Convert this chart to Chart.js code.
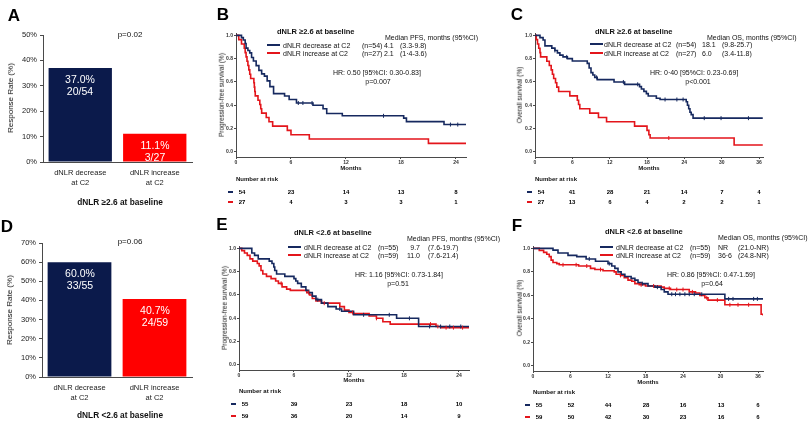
<!DOCTYPE html>
<html><head><meta charset="utf-8">
<script src="https://cdn.jsdelivr.net/npm/chart.js@4.4.1/dist/chart.umd.min.js"></script>
<style>
html,body{margin:0;padding:0;background:#fff;}
#page{position:relative;width:811px;height:428px;overflow:hidden;font-family:"Liberation Sans",Arial,sans-serif;color:#111;}
canvas{position:absolute;}
.t{position:absolute;white-space:nowrap;line-height:1;will-change:transform;}
</style></head><body><div id="page">
<canvas id="cA" width="200" height="215" style="left:0px;top:0px"></canvas>
<canvas id="cD" width="200" height="213" style="left:0px;top:215px"></canvas>
<canvas id="cB" width="280" height="160" style="left:200px;top:20px"></canvas>
<canvas id="cC" width="280" height="160" style="left:510px;top:20px"></canvas>
<canvas id="cE" width="280" height="160" style="left:200px;top:233px"></canvas>
<canvas id="cF" width="280" height="160" style="left:510px;top:233px"></canvas>
</div>
<script>
// ---------------- DATA ----------------
const barCategories = [["dNLR decrease","at C2"],["dNLR increase","at C2"]];
const rateHigh = [37.0, 11.1];
const countsHigh = ["20/54","3/27"];
const rateLow = [60.0, 40.7];
const countsLow = ["33/55","24/59"];

// B: PFS, dNLR >=2.6
const bTimeDec = [0,0.6,0.8,1.0,1.1,1.3,1.5,1.7,1.9,2.2,2.5,2.8,3.1,3.4,3.7,4.1,5.3,5.8,6.6,8.4,9.5,9.9,11.6,18.3,18.6,22.7,25.1];
const bSurvDec = [1,0.98,0.96,0.93,0.89,0.87,0.85,0.81,0.78,0.74,0.70,0.67,0.65,0.61,0.56,0.50,0.48,0.45,0.42,0.40,0.37,0.33,0.31,0.29,0.26,0.235,0.235];
const bTimeInc = [0,0.3,0.6,0.9,1.0,1.1,1.2,1.3,1.4,1.5,1.6,1.95,2.0,2.05,2.1,2.4,2.6,2.7,2.8,3.3,3.6,4.0,5.6,6.0,8.0,21.0,25.1];
const bSurvInc = [1,0.963,0.926,0.889,0.852,0.815,0.778,0.741,0.704,0.667,0.630,0.593,0.556,0.519,0.481,0.444,0.407,0.370,0.333,0.296,0.259,0.222,0.185,0.148,0.111,0.074,0.074];
const bCensDec = [6.8,7.3,8.3,16.1,23.4,24.2];
const bCensInc = [];

// C: OS, dNLR >=2.6
const cTimeDec = [0,0.8,1.3,1.6,2.7,3.2,3.6,4.0,4.5,5.2,6.0,8.4,8.7,9.0,9.3,9.6,10.0,12.7,14.4,16.8,17.1,17.5,17.9,18.2,19.5,20.1,24.3,24.5,24.7,24.9,25.1,25.4,36.6];
const cSurvDec = [1,0.98,0.96,0.91,0.89,0.87,0.85,0.83,0.815,0.80,0.78,0.76,0.72,0.68,0.66,0.64,0.62,0.60,0.58,0.56,0.54,0.52,0.50,0.48,0.46,0.45,0.43,0.40,0.37,0.34,0.32,0.29,0.29];
const cTimeInc = [0,0.2,0.4,0.6,0.8,0.9,1.9,2.3,2.6,2.8,3.0,3.3,3.5,3.8,5.6,6.8,7.0,7.2,8.8,10.2,11.5,16.0,18.0,18.3,18.5,32.0,36.6];
const cSurvInc = [1,0.963,0.926,0.889,0.852,0.815,0.778,0.741,0.704,0.667,0.630,0.593,0.556,0.519,0.481,0.444,0.407,0.370,0.333,0.296,0.259,0.222,0.185,0.148,0.120,0.060,0.060];
const cCensDec = [3.2,5.1,9.9,14.2,16.5,20.9,22.8,23.8,27.2,29.9,34.3];
const cCensInc = [21.5];

// E: PFS, dNLR <2.6
const eTimeDec = [0,1.4,1.7,2.1,3.3,3.6,3.8,3.9,4.1,5.0,6.0,6.2,6.4,6.8,7.3,7.6,8.0,8.4,9.0,9.7,10.6,11.2,12.5,17.2,19.6,25.1];
const eSurvDec = [1,0.96,0.94,0.91,0.89,0.87,0.84,0.81,0.78,0.76,0.74,0.72,0.70,0.67,0.64,0.62,0.59,0.56,0.53,0.50,0.48,0.46,0.43,0.40,0.33,0.33];
const eTimeInc = [0,0.3,0.6,0.9,1.2,1.5,2.0,2.2,2.4,2.6,3.0,3.5,4.0,4.3,4.7,5.2,5.6,7.4,7.7,8.0,8.4,9.0,11.0,11.5,12.0,12.5,14.2,15.0,15.7,16.5,21.5,22.0,25.1];
const eSurvInc = [1,0.98,0.96,0.94,0.91,0.89,0.87,0.85,0.81,0.78,0.76,0.74,0.72,0.70,0.67,0.65,0.64,0.62,0.60,0.57,0.55,0.53,0.50,0.47,0.45,0.44,0.42,0.40,0.37,0.35,0.33,0.32,0.32];
const eCensDec = [8.6,11.0,13.6,16.4,18.6,20.8,22.0,23.0,24.2];
const eCensInc = [4.6,7.6,9.3,12.4,15.0,20.9,21.7,22.6,23.4,24.4];

// F: OS, dNLR <2.6
const fTimeDec = [0,3.2,4.0,5.6,7.0,8.5,10.0,12.0,12.6,13.1,13.6,14.1,14.7,15.7,16.3,16.8,17.3,18.4,19.5,20.5,21.0,21.6,30.7,36.8];
const fSurvDec = [1,0.985,0.96,0.94,0.93,0.91,0.89,0.87,0.85,0.83,0.80,0.78,0.76,0.745,0.73,0.71,0.70,0.68,0.67,0.65,0.63,0.61,0.57,0.57];
const fTimeInc = [0,1.0,1.7,2.2,2.6,2.9,3.2,3.8,4.2,7.3,9.2,9.9,11.2,13.0,13.3,14.0,14.6,15.2,15.8,16.3,17.0,18.0,20.5,21.0,22.0,25.0,26.0,26.7,27.5,28.0,30.7,36.5,36.8];
const fSurvInc = [1,0.983,0.966,0.95,0.93,0.90,0.88,0.87,0.86,0.85,0.83,0.82,0.81,0.80,0.78,0.77,0.75,0.73,0.72,0.70,0.69,0.68,0.67,0.66,0.65,0.63,0.62,0.60,0.58,0.56,0.52,0.44,0.43];
const fCensDec = [9.0,12.2,17.5,19.9,22.2,22.8,23.5,24.3,25.0,25.8,27.0,31.3,32.0,35.3,35.9];
const fCensInc = [4.8,6.9,8.6,10.8,14.0,17.3,19.3,21.8,23.0,24.0,25.5,27.8,29.5,31.5,32.8,34.5];

// Number at risk
const monthsPFS = [0,6,12,18,24];
const monthsOS = [0,6,12,18,24,30,36];
const bRiskDec = [54,23,14,13,8];
const bRiskInc = [27,4,3,3,1];
const cRiskDec = [54,41,28,21,14,7,4];
const cRiskInc = [27,13,6,4,2,2,1];
const eRiskDec = [55,39,23,18,10];
const eRiskInc = [59,36,20,14,9];
const fRiskDec = [55,52,44,28,16,13,6];
const fRiskInc = [59,50,42,30,23,16,6];

// ---------------- HELPERS ----------------
const NAVY_BAR = '#0b1a4b';
const RED_BAR = '#ff0000';
const NAVY = '#16295f';
const RED = '#e3151b';
const AX = '#4a4a4a';
const page = document.getElementById('page');

function T(x, y, s, o) {
  o = o || {};
  const d = document.createElement('div');
  d.className = 't';
  d.textContent = s;
  d.style.left = x + 'px';
  d.style.top = y + 'px';
  d.style.fontSize = (o.size || 7) + 'px';
  if (o.bold) d.style.fontWeight = 'bold';
  if (o.color) d.style.color = o.color;
  const a = o.a || 'l';
  const tr = {l:'translate(0,-50%)', c:'translate(-50%,-50%)', r:'translate(-100%,-50%)', rot:'translate(-50%,-50%) rotate(-90deg)'}[a];
  d.style.transform = tr;
  page.appendChild(d);
  return d;
}
function R(x, y, w, h, c) {
  const d = document.createElement('div');
  d.style.position = 'absolute';
  d.style.left = x + 'px'; d.style.top = y + 'px';
  d.style.width = w + 'px'; d.style.height = h + 'px';
  d.style.background = c;
  page.appendChild(d);
}
function stepValue(t, s, v) {
  let r = s[0];
  for (let i = 0; i < t.length; i++) { if (t[i] <= v) r = s[i]; }
  return r;
}
const FONT = '"Liberation Sans", Arial, sans-serif';
Chart.defaults.font.family = FONT;

// ---------------- BAR CHARTS ----------------
function makeBar(id, left, top, rates, counts, yMax, padTop, yW, xH) {
  const chart = new Chart(document.getElementById(id), {
    type: 'bar',
    data: {
      labels: barCategories,
      datasets: [{ data: rates, backgroundColor: [NAVY_BAR, RED_BAR], borderWidth: 0,
        barPercentage: 0.85, categoryPercentage: 1.0 }]
    },
    options: {
      responsive: false, animation: false, devicePixelRatio: 1,
      layout: { padding: { left: 0, top: padTop, right: 8, bottom: 0 } },
      plugins: { legend: { display: false }, tooltip: { enabled: false } },
      scales: {
        x: {
          afterFit: s => { s.height = xH; },
          grid: { display: false, drawTicks: false },
          border: { display: true, color: AX, width: 1 },
          ticks: { color: '#222', padding: 5, font: { size: 7.5, lineHeight: 1.45 }, maxRotation: 0, autoSkip: false }
        },
        y: {
          min: 0, max: yMax,
          afterFit: s => { s.width = yW; },
          ticks: { stepSize: 10, color: '#222', padding: 3, font: { size: 7.5 }, callback: v => v + '%' },
          grid: { drawOnChartArea: false, drawTicks: true, tickLength: 3, color: AX },
          border: { display: true, color: AX, width: 1 }
        }
      }
    }
  });
  const meta = chart.getDatasetMeta(0);
  meta.data.forEach((el, i) => {
    T(left + el.x, top + el.y + 11, rates[i].toFixed(1) + '%', { size: 10.5, a: 'c', color: '#fff' });
    T(left + el.x, top + el.y + 23, counts[i], { size: 10.5, a: 'c', color: '#fff' });
  });
  return chart;
}

makeBar('cA', 0, 0, rateHigh, countsHigh, 50, 35, 43, 53);
makeBar('cD', 0, 215, rateLow, countsLow, 70, 28, 42, 51);

// ---------------- KM CHARTS ----------------
function makeKM(id, cfg) {
  const pts = (t, s) => t.map((v, i) => ({ x: v, y: s[i] }));
  const cens = (ct, t, s) => ct.map(v => ({ x: v, y: stepValue(t, s, v) }));
  const chart = new Chart(document.getElementById(id), {
    type: 'line',
    data: {
      datasets: [
        { data: cens(cfg.cDec, cfg.tDec, cfg.sDec), showLine: false, pointStyle: 'line', rotation: 90, pointRadius: 2, borderColor: NAVY, borderWidth: 1 },
        { data: cens(cfg.cInc, cfg.tInc, cfg.sInc), showLine: false, pointStyle: 'line', rotation: 90, pointRadius: 2, borderColor: RED, borderWidth: 1 },
        { data: pts(cfg.tDec, cfg.sDec), borderColor: NAVY, borderWidth: 1.6, stepped: true, pointRadius: 0, fill: false },
        { data: pts(cfg.tInc, cfg.sInc), borderColor: RED, borderWidth: 1.6, stepped: true, pointRadius: 0, fill: false }
      ]
    },
    options: {
      responsive: false, animation: false, devicePixelRatio: 1,
      layout: { padding: { left: 0, top: 13, right: cfg.padR, bottom: 0 } },
      plugins: { legend: { display: false }, tooltip: { enabled: false } },
      scales: {
        x: {
          type: 'linear', min: 0, max: cfg.xMax,
          afterBuildTicks: s => { s.ticks = cfg.months.map(v => ({ value: v })); },
          afterFit: s => { s.height = cfg.xH; },
          ticks: { color: '#333', padding: 1, font: { size: 5, weight: 'bold' }, maxRotation: 0, autoSkip: false },
          grid: { drawOnChartArea: false, tickLength: 2, color: AX },
          border: { display: true, color: AX, width: 1 }
        },
        y: {
          min: -0.043, max: 1.02,
          afterBuildTicks: s => { s.ticks = [0, 0.2, 0.4, 0.6, 0.8, 1].map(v => ({ value: v })); },
          afterFit: s => { s.width = cfg.yW; },
          ticks: { color: '#333', padding: 1, font: { size: 5, weight: 'bold' }, callback: v => Number(v).toFixed(1) },
          grid: { drawOnChartArea: false, tickLength: 2, color: AX },
          border: { display: true, color: AX, width: 1 }
        }
      }
    }
  });
  // number at risk table
  const xs = chart.scales.x;
  cfg.months.forEach((m, i) => {
    const px = cfg.left + xs.getPixelForValue(m) + (i === 0 ? 6 : 0);
    T(px, cfg.riskY1, String(cfg.rDec[i]), { size: 6, bold: true, a: 'c', color: '#000' });
    T(px, cfg.riskY2, String(cfg.rInc[i]), { size: 6, bold: true, a: 'c', color: '#000' });
  });
  const ax0 = cfg.left + xs.getPixelForValue(0);
  R(ax0 - 8, cfg.riskY1 - 1, 5, 2, NAVY);
  R(ax0 - 8, cfg.riskY2 - 1, 5, 2, RED);
  T(ax0, cfg.riskY1 - 13, 'Number at risk', { size: 6, bold: true });
  T(cfg.left + xs.getPixelForValue(cfg.xMax / 2), cfg.monthsY, 'Months', { size: 6, bold: true, a: 'c' });
  return chart;
}

makeKM('cB', { left: 200, padR: 14, yW: 36, xH: 23, xMax: 25.1, months: monthsPFS,
  tDec: bTimeDec, sDec: bSurvDec, tInc: bTimeInc, sInc: bSurvInc, cDec: bCensDec, cInc: bCensInc,
  rDec: bRiskDec, rInc: bRiskInc, riskY1: 192, riskY2: 202, monthsY: 168 });
makeKM('cC', { left: 510, padR: 27, yW: 25, xH: 23, xMax: 36.64, months: monthsOS,
  tDec: cTimeDec, sDec: cSurvDec, tInc: cTimeInc, sInc: cSurvInc, cDec: cCensDec, cInc: cCensInc,
  rDec: cRiskDec, rInc: cRiskInc, riskY1: 192, riskY2: 202, monthsY: 168 });
makeKM('cE', { left: 200, padR: 11, yW: 39, xH: 23, xMax: 25.1, months: monthsPFS,
  tDec: eTimeDec, sDec: eSurvDec, tInc: eTimeInc, sInc: eSurvInc, cDec: eCensDec, cInc: eCensInc,
  rDec: eRiskDec, rInc: eRiskInc, riskY1: 404, riskY2: 416, monthsY: 380 });
makeKM('cF', { left: 510, padR: 27, yW: 23, xH: 22, xMax: 36.8, months: monthsOS,
  tDec: fTimeDec, sDec: fSurvDec, tInc: fTimeInc, sInc: fSurvInc, cDec: fCensDec, cInc: fCensInc,
  rDec: fRiskDec, rInc: fRiskInc, riskY1: 405, riskY2: 417, monthsY: 382 });

// ---------------- TEXT ANNOTATIONS ----------------
T(14, 15, 'A', { size: 17, bold: true, a: 'c', color: '#000' });
T(223, 14, 'B', { size: 17, bold: true, a: 'c', color: '#000' });
T(517, 14, 'C', { size: 17, bold: true, a: 'c', color: '#000' });
T(7, 226, 'D', { size: 17, bold: true, a: 'c', color: '#000' });
T(222, 224, 'E', { size: 17, bold: true, a: 'c', color: '#000' });
T(517, 225, 'F', { size: 17, bold: true, a: 'c', color: '#000' });

T(11, 98, 'Response Rate (%)', { size: 8, a: 'rot' });
T(130, 35, 'p=0.02', { size: 8, a: 'c' });
T(120, 202, 'dNLR \u22652.6 at baseline', { size: 8.3, bold: true, a: 'c' });
T(10, 310, 'Response Rate (%)', { size: 8, a: 'rot' });
T(130, 242, 'p=0.06', { size: 8, a: 'c' });
T(120, 415, 'dNLR <2.6 at baseline', { size: 8.3, bold: true, a: 'c' });

T(222, 95, 'Progression-free survival (%)', { size: 6.5, a: 'rot' });
T(520, 95, 'Overall survival (%)', { size: 6.5, a: 'rot' });
T(225, 308, 'Progression-free survival (%)', { size: 6.5, a: 'rot' });
T(520, 308, 'Overall survival (%)', { size: 6.5, a: 'rot' });

function legendBlock(o) {
  T(o.titleX, o.titleY, o.title, { size: 7.5, bold: true });
  T(o.headX, o.titleY + 5, o.head, { size: 7 });
  R(o.lineX, o.row1 - 1, 13, 2, NAVY);
  R(o.lineX, o.row2 - 1, 13, 2, RED);
  T(o.nameX, o.row1, 'dNLR decrease at C2', { size: 7 });
  T(o.nameX, o.row2, 'dNLR increase at C2', { size: 7 });
  T(o.nX, o.row1, o.n1, { size: 7 });
  T(o.nX, o.row2, o.n2, { size: 7 });
  T(o.medX, o.row1, o.m1, { size: 7, a: o.medA || 'l' });
  T(o.medX, o.row2, o.m2, { size: 7, a: o.medA || 'l' });
  T(o.ciX, o.row1, o.ci1, { size: 7 });
  T(o.ciX, o.row2, o.ci2, { size: 7 });
  T(o.hrX, o.hrY, o.hr, { size: 7 });
  T(o.pX, o.hrY + 9, o.p, { size: 7, a: 'c' });
}
legendBlock({ title: 'dNLR \u22652.6 at baseline', titleX: 277, titleY: 32, head: 'Median PFS, months (95%CI)', headX: 385,
  lineX: 267, row1: 45, row2: 53, nameX: 283, nX: 362, medX: 384, ciX: 400,
  n1: '(n=54)', n2: '(n=27)', m1: '4.1', m2: '2.1', ci1: '(3.3-9.8)', ci2: '(1\u00b74-3.6)',
  hr: 'HR: 0.50  [95%CI: 0.30-0.83]', hrX: 333, hrY: 72, p: 'p=0.007', pX: 378 });
legendBlock({ title: 'dNLR \u22652.6 at baseline', titleX: 595, titleY: 32, head: 'Median OS, months (95%CI)', headX: 707,
  lineX: 590, row1: 44, row2: 53, nameX: 604, nX: 676, medX: 702, ciX: 722,
  n1: '(n=54)', n2: '(n=27)', m1: '18.1', m2: '6.0', ci1: '(9.8-25.7)', ci2: '(3.4-11.8)',
  hr: 'HR: 0\u00b740  [95%CI: 0.23-0.69]', hrX: 650, hrY: 72, p: 'p<0.001', pX: 698 });
legendBlock({ title: 'dNLR  <2.6 at baseline', titleX: 294, titleY: 233, head: 'Median PFS, months (95%CI)', headX: 407,
  lineX: 288, row1: 247, row2: 255, nameX: 304, nX: 378, medX: 420, medA: 'r', ciX: 428,
  n1: '(n=55)', n2: '(n=59)', m1: '9.7', m2: '11.0', ci1: '(7.6-19.7)', ci2: '(7.6-21.4)',
  hr: 'HR: 1.16  [95%CI: 0.73-1.84]', hrX: 355, hrY: 274, p: 'p=0.51', pX: 398 });
legendBlock({ title: 'dNLR  <2.6 at baseline', titleX: 605, titleY: 232, head: 'Median OS, months (95%CI)', headX: 718,
  lineX: 600, row1: 247, row2: 255, nameX: 616, nX: 690, medX: 718, ciX: 738,
  n1: '(n=55)', n2: '(n=59)', m1: 'NR', m2: '36\u00b76', ci1: '(21.0-NR)', ci2: '(24.8-NR)',
  hr: 'HR: 0.86  [95%CI: 0.47-1.59]', hrX: 667, hrY: 274, p: 'p=0.64', pX: 712 });
</script>
</body></html>
